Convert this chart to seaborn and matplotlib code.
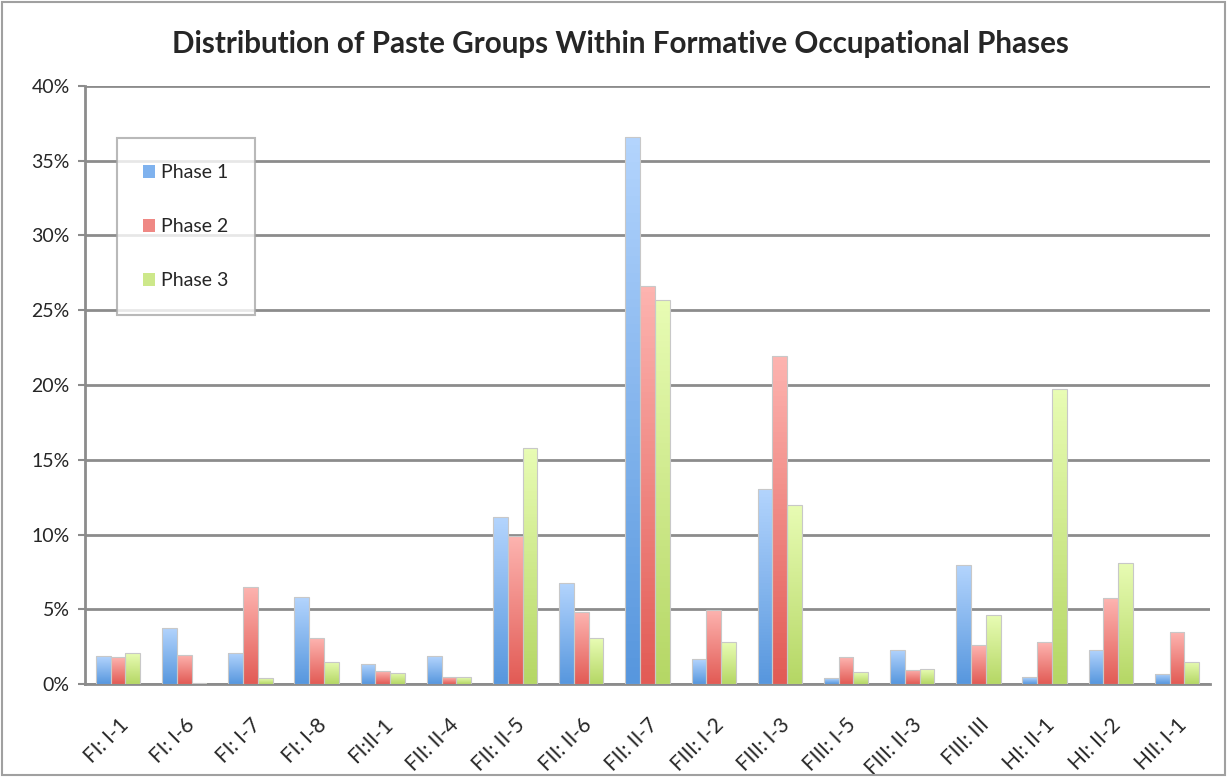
import matplotlib
matplotlib.use("Agg")
import matplotlib.pyplot as plt
import numpy as np
import pandas as pd
import seaborn as sns
from matplotlib.colors import to_rgb
from matplotlib.patches import Patch, Rectangle

# datos (porcentajes)
grupos = ["FI: I-1", "FI: I-6", "FI: I-7", "FI: I-8", "FI:II-1", "FII: II-4", "FII: II-5",
          "FII: II-6", "FII: II-7", "FIII: I-2", "FIII: I-3", "FIII: I-5", "FIII: II-3",
          "FIII: III", "HI: II-1", "HI: II-2", "HII: I-1"]
fase1 = [1.85, 3.75, 2.1, 5.8, 1.35, 1.85, 11.15, 6.75, 36.6, 1.65, 13.05, 0.4, 2.3, 7.95, 0.45, 2.3, 0.7]
fase2 = [1.8, 1.95, 6.5, 3.05, 0.85, 0.45, 9.9, 4.8, 26.6, 4.95, 21.95, 1.8, 0.95, 2.6, 2.8, 5.75, 3.45]
fase3 = [2.05, 0.1, 0.4, 1.5, 0.75, 0.45, 15.8, 3.05, 25.7, 2.8, 12.0, 0.8, 1.0, 4.6, 19.7, 8.1, 1.5]
fases = ["Phase 1", "Phase 2", "Phase 3"]
yticks = [0, 5, 10, 15, 20, 25, 30, 35, 40]

# colores degradados (arriba claro, abajo oscuro)
claros = ["#b3d4fd", "#fdb4b0", "#e8fcb4"]
oscuros = ["#5797de", "#e25b55", "#b5d765"]
medios = ["#7fb2ee", "#ef8884", "#cde88a"]

df = pd.DataFrame({
    "grupo": grupos * 3,
    "fase": [f for f in fases for _ in grupos],
    "valor": fase1 + fase2 + fase3,
})

sns.set_style("white")
plt.rcParams["font.family"] = ["Lato", "DejaVu Sans"]

fig = plt.figure(figsize=(12.27, 7.77), dpi=100)
ax = fig.add_axes([85 / 1227, 93 / 777, 1125 / 1227, 598 / 777])

sns.barplot(data=df, x="grupo", y="valor", hue="fase", order=grupos, hue_order=fases,
            palette=medios, width=0.67, ax=ax, legend=False, zorder=3)

# degradado en cada barra
for cont, c_top, c_bot in zip(ax.containers, claros, oscuros):
    top = np.array(to_rgb(c_top))
    bot = np.array(to_rgb(c_bot))
    grad = np.linspace(bot, top, 64).reshape(64, 1, 3)
    for p in cont.patches:
        x, w, h = p.get_x(), p.get_width(), p.get_height()
        if h <= 0:
            continue
        im = ax.imshow(grad, extent=[x, x + w, 0, h], origin="lower", aspect="auto", zorder=3)
        im.set_clip_path(p)
        p.set_facecolor("none")
        p.set_edgecolor("#c8c8c8")
        p.set_linewidth(0.8)
        p.set_zorder(4)

ax.set_xlim(-0.5, len(grupos) - 0.5)
ax.set_ylim(0, 40)

ax.set_yticks(yticks)
ax.set_yticklabels([f"{v}%" for v in yticks], fontsize=14)
ax.yaxis.grid(True, color="#8c8c8c", linewidth=2, zorder=0)
ax.set_axisbelow(True)

ax.set_xticks(range(len(grupos)))
ax.set_xticklabels(grupos, rotation=45, ha="right", rotation_mode="anchor", fontsize=15)
ax.set_xticks(np.arange(-0.5, len(grupos), 1), minor=True)
ax.tick_params(axis="x", which="major", length=0, pad=22)
ax.tick_params(axis="x", which="minor", length=6, width=1.5, color="#8c8c8c", direction="out")
ax.tick_params(axis="y", length=5, width=1.5, color="#8c8c8c", direction="out", left=True, pad=6)

for s in ["top", "right"]:
    ax.spines[s].set_visible(False)
for s in ["left", "bottom"]:
    ax.spines[s].set_color("#8c8c8c")
    ax.spines[s].set_linewidth(2)

ax.set_xlabel("")
ax.set_ylabel("")

ax.set_title("Distribution of Paste Groups Within Formative Occupational Phases",
             fontsize=21.3, fontweight="bold", pad=24, x=0.4756)

handles = [Patch(facecolor=c, edgecolor="none") for c in medios]
leg = ax.legend(handles, fases, loc="upper left", bbox_to_anchor=(0.028, 0.913),
                fontsize=14, frameon=True, fancybox=False, handlelength=0.65,
                handleheight=0.7, handletextpad=0.3, labelspacing=1.9,
                borderpad=1.35, borderaxespad=0)
leg.get_frame().set_edgecolor("#a8a8a8")
leg.get_frame().set_linewidth(1.5)
leg.set_zorder(10)

# marco exterior del grafico
fig.patches.append(Rectangle((0.002, 0.002), 0.996, 0.996, transform=fig.transFigure,
                             fill=False, edgecolor="#a0a0a0", linewidth=1.5))

fig.savefig("out.png", dpi=100)
